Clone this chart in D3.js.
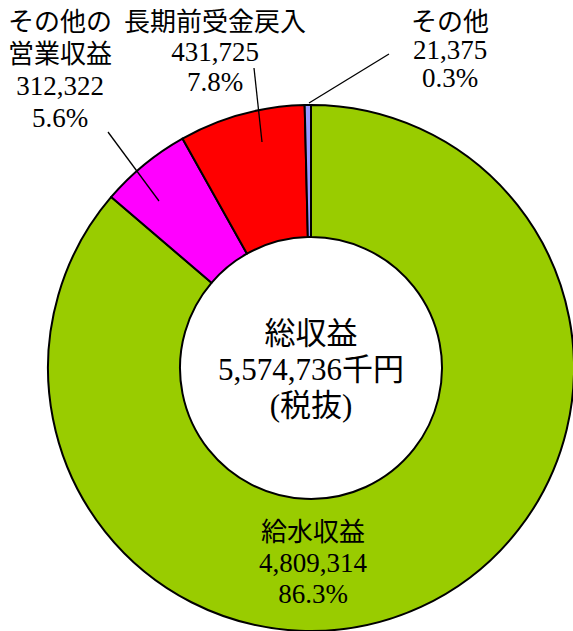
<!DOCTYPE html>
<html>
<head>
<meta charset="utf-8">
<script src="https://cdn.jsdelivr.net/npm/d3@7"></script>
<style>
  html, body { margin: 0; padding: 0; background: #fff; }
  svg { display: block; }
  svg text { font-family: "Liberation Serif", "DejaVu Serif", "Noto Sans CJK JP", serif; fill: #000; }
</style>
</head>
<body>
<div id="chart"></div>
<script>
// data (千円, 税抜)
var categories = ["給水収益", "その他の営業収益", "長期前受金戻入", "その他"];
var values = [4809314, 312322, 431725, 21375];
var percents = ["86.3%", "5.6%", "7.8%", "0.3%"];
var colors = ["#99cc00", "#ff00ff", "#ff0000", "#9999ff"];
var labelLines = [["給水収益"], ["その他の", "営業収益"], ["長期前受金戻入"], ["その他"]];
var totalLines = ["総収益", "5,574,736千円", "(税抜)"];

var width = 573, height = 631;
var cx = 311, cy = 368, outerR = 263, innerR = 131;

var svg = d3.select("#chart")
    .append("svg")
    .attr("width", width)
    .attr("height", height);

var g = svg.append("g").attr("transform", "translate(" + cx + "," + cy + ")");

var pie = d3.pie().sort(null).value(function(d) { return d; });
var arc = d3.arc().innerRadius(innerR).outerRadius(outerR);
var arcs = pie(values);

g.selectAll("path.slice")
    .data(arcs)
    .enter()
    .append("path")
    .attr("class", "slice")
    .attr("d", arc)
    .attr("fill", function(d, i) { return colors[i]; })
    .attr("stroke", "#000")
    .attr("stroke-width", 2)
    .attr("stroke-linejoin", "round");

// label placement (page coords): text center x, first line y, line step; leader line ends
var labelPos = [
  { x: 313, y: 541, step: 31, leader: null },
  { x: 60, y: 31, step: 32, leader: [[108, 132], [159, 201]] },
  { x: 215, y: 31, step: 30, leader: [[254, 68], [262, 142]] },
  { x: 450, y: 31, step: 28, leader: [[389, 54], [309, 103]] }
];
var fs = 26;

categories.forEach(function(c, i) {
  var p = labelPos[i];
  var n = labelLines[i].length;
  var lines = labelLines[i].concat([d3.format(",")(values[i]), percents[i]]);
  var t = svg.append("text")
      .attr("text-anchor", "middle")
      .attr("font-size", fs);
  lines.forEach(function(s, k) {
    t.append("tspan").attr("x", p.x).attr("y", p.y + k * p.step)
      .attr("font-size", k >= n ? 27 : fs)
      .text(s);
  });
  if (p.leader) {
    svg.append("line")
        .attr("x1", p.leader[0][0]).attr("y1", p.leader[0][1])
        .attr("x2", p.leader[1][0]).attr("y2", p.leader[1][1])
        .attr("stroke", "#000").attr("stroke-width", 1.3);
  }
});

// center total
var ct = svg.append("text")
    .attr("text-anchor", "middle")
    .attr("font-size", 31);
totalLines.forEach(function(s, k) {
  ct.append("tspan").attr("x", cx).attr("y", 344 + k * 36).text(s);
});
</script>
</body>
</html>
